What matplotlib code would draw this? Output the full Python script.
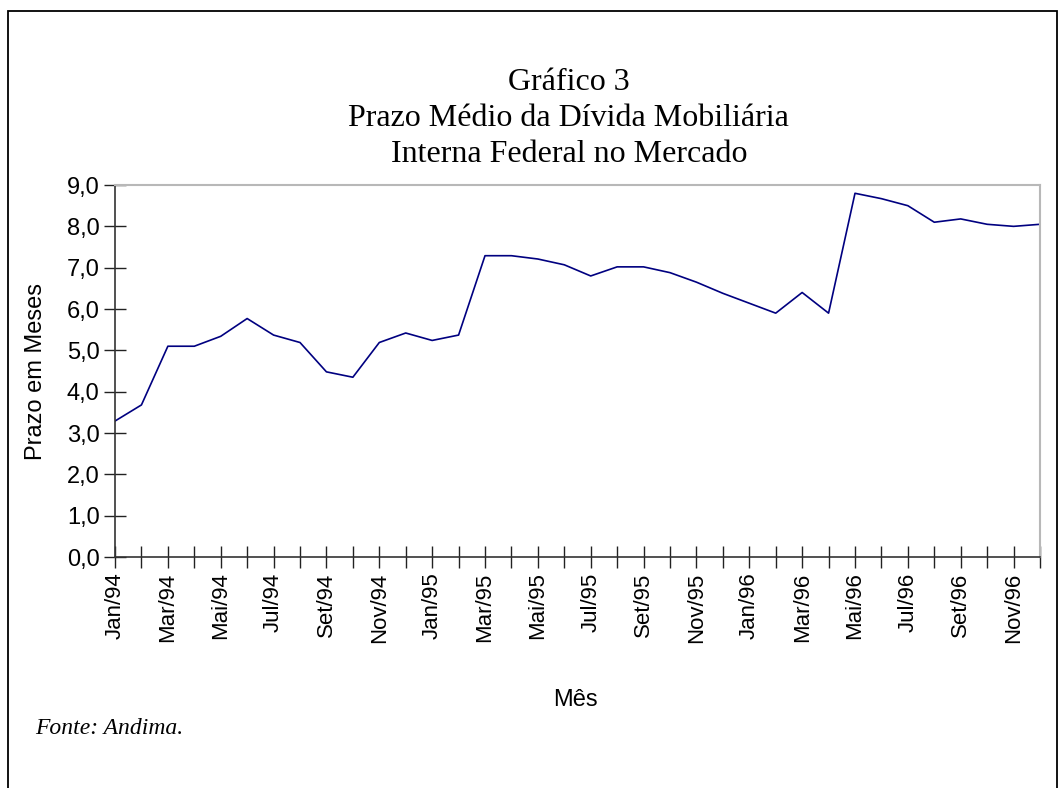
# Grafico 3 - Prazo medio da divida mobiliaria interna federal no mercado
import matplotlib.pyplot as plt
from matplotlib.patches import Rectangle

# monthly series Jan/94 .. Dec/96 (months)
meses = ['Jan/94', 'Fev/94', 'Mar/94', 'Abr/94', 'Mai/94', 'Jun/94',
         'Jul/94', 'Ago/94', 'Set/94', 'Out/94', 'Nov/94', 'Dez/94',
         'Jan/95', 'Fev/95', 'Mar/95', 'Abr/95', 'Mai/95', 'Jun/95',
         'Jul/95', 'Ago/95', 'Set/95', 'Out/95', 'Nov/95', 'Dez/95',
         'Jan/96', 'Fev/96', 'Mar/96', 'Abr/96', 'Mai/96', 'Jun/96',
         'Jul/96', 'Ago/96', 'Set/96', 'Out/96', 'Nov/96', 'Dez/96']
prazo = [3.29, 3.68, 5.10, 5.10, 5.34, 5.77,
         5.37, 5.19, 4.48, 4.35, 5.19, 5.42,
         5.24, 5.37, 7.29, 7.29, 7.21, 7.07,
         6.80, 7.02, 7.02, 6.88, 6.65, 6.38,
         6.14, 5.90, 6.40, 5.90, 8.80, 8.67,
         8.50, 8.10, 8.18, 8.05, 8.00, 8.05]
y_ticks = [0, 1, 2, 3, 4, 5, 6, 7, 8, 9]

sans = 'Liberation Sans'
serif = 'Liberation Serif'

fig = plt.figure(figsize=(10.61, 7.88), dpi=100)
ax = fig.add_axes([0.1084, 0.2931, 0.8718, 0.4721])

x = list(range(len(meses)))
ax.plot(x, prazo, color='#000080', lw=1.2)

ax.set_xlim(0, len(meses) - 1)
ax.set_ylim(0, 9)

# ticks cross the axis lines, one per month; label every other month
ax.set_xticks(x)
ax.set_xticklabels([m if i % 2 == 0 else '' for i, m in enumerate(meses)],
                   rotation=90, fontsize=16, family=sans)
ax.set_yticks(y_ticks)
ax.set_yticklabels([f'{v:.1f}'.replace('.', ',') for v in y_ticks],
                   fontsize=17, family=sans)
ax.tick_params(axis='both', direction='inout', length=16, width=1,
               color='#222222', pad=3)

for side in ['top', 'right']:
    ax.spines[side].set_color('#b8b8b8')
    ax.spines[side].set_linewidth(1.5)
for side in ['left', 'bottom']:
    ax.spines[side].set_color('#333333')
    ax.spines[side].set_linewidth(1.2)

ax.set_ylabel('Prazo em Meses', fontsize=17, family=sans)
ax.yaxis.set_label_coords(-0.074, 0.5)

fig.text(0.5362, 0.8495, 'Gráfico 3\nPrazo Médio da Dívida Mobiliária\nInterna Federal no Mercado',
         ha='center', va='center', fontsize=23, family=serif, linespacing=1.33)
fig.text(0.5420, 0.1117, 'Mês', ha='center', va='center', fontsize=17, family=sans)
fig.text(0.033, 0.0761, 'Fonte: Andima.', ha='left', va='center', fontsize=17,
         family=serif, style='italic')

# outer frame (bottom edge falls off the image)
fig.patches.append(Rectangle((0.0075, -0.05), 0.9885, 1.036, transform=fig.transFigure,
                             fill=False, edgecolor='black', lw=1.3))

fig.savefig('out.png', dpi=100, facecolor='white')
